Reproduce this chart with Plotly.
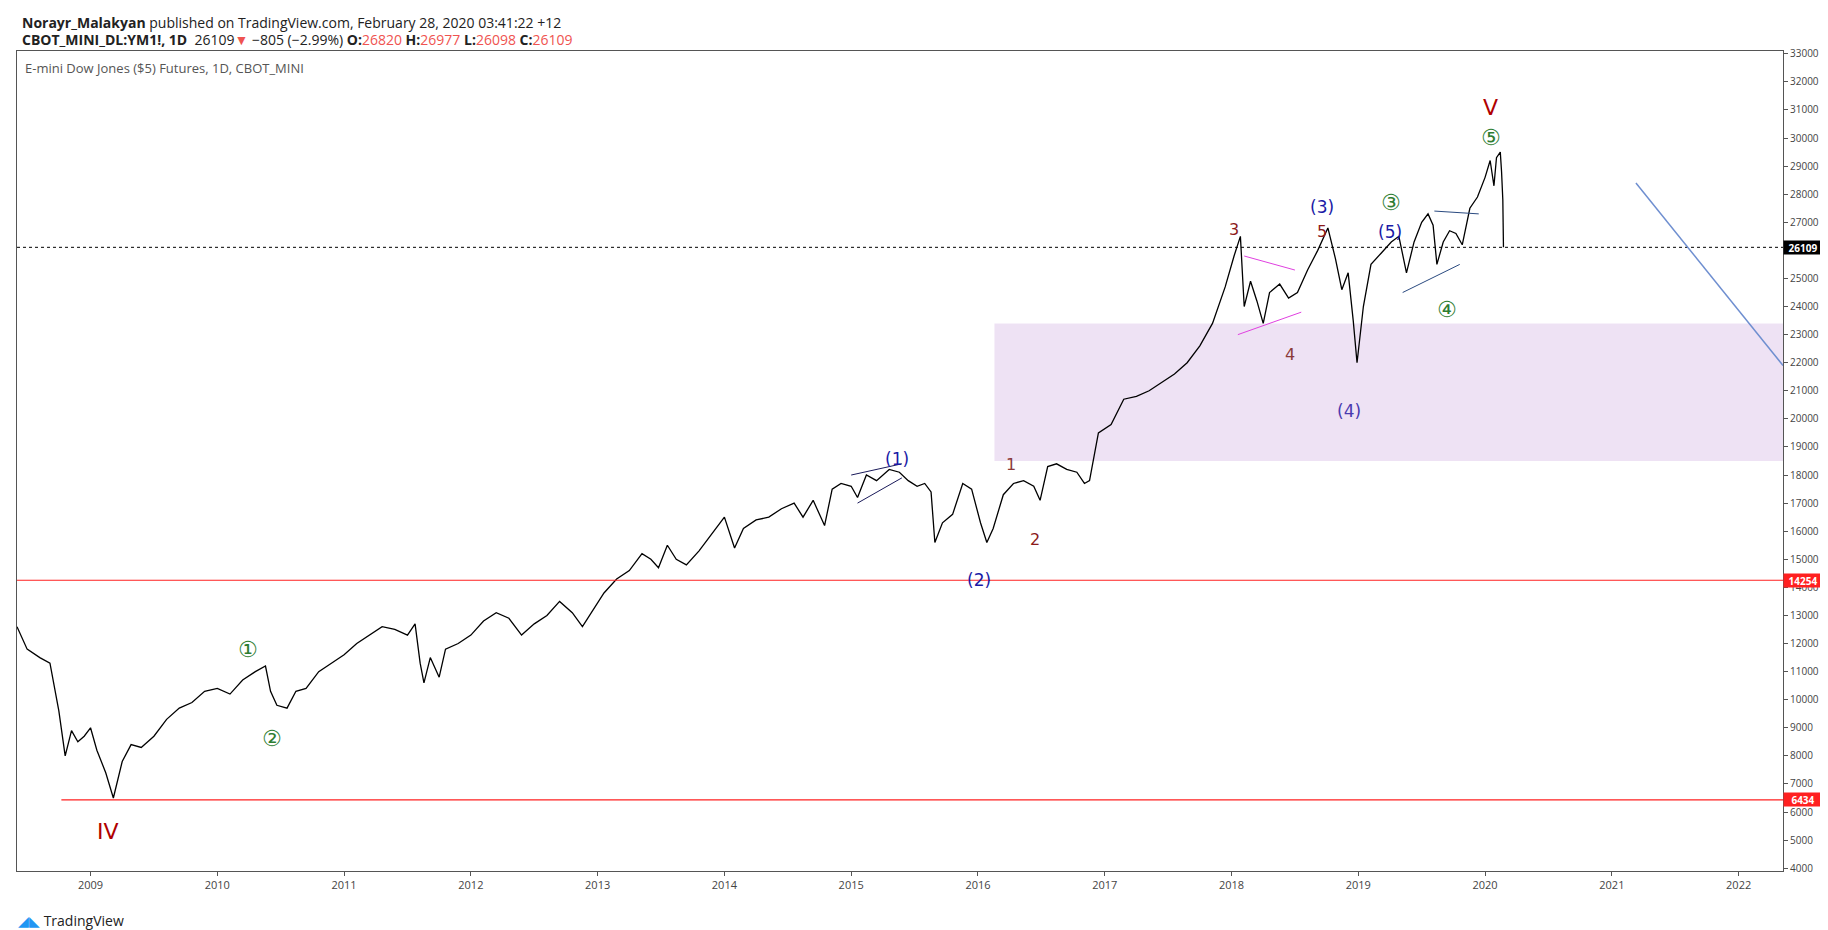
import plotly.graph_objects as go

# Price path (approximate closes), decimal years
years = [2008.42, 2008.5, 2008.6, 2008.68, 2008.75, 2008.8, 2008.85, 2008.9, 2008.95, 2009.0,
         2009.05, 2009.12, 2009.18, 2009.25, 2009.32, 2009.4, 2009.5, 2009.6, 2009.7, 2009.8,
         2009.9, 2010.0, 2010.1, 2010.2, 2010.3, 2010.38, 2010.42, 2010.47, 2010.55, 2010.62,
         2010.7, 2010.8, 2010.9, 2011.0, 2011.1, 2011.2, 2011.3, 2011.4, 2011.5, 2011.56,
         2011.6, 2011.63, 2011.68, 2011.75, 2011.8, 2011.9, 2012.0, 2012.1, 2012.2, 2012.3,
         2012.4, 2012.5, 2012.6, 2012.7, 2012.8, 2012.88, 2012.95, 2013.05, 2013.15, 2013.25,
         2013.35, 2013.42, 2013.48, 2013.55, 2013.62, 2013.7, 2013.8, 2013.9, 2014.0, 2014.08,
         2014.15, 2014.25, 2014.35, 2014.45, 2014.55, 2014.62, 2014.7, 2014.79, 2014.85, 2014.92,
         2015.0, 2015.05, 2015.12, 2015.2, 2015.3, 2015.38, 2015.45, 2015.52, 2015.58, 2015.63,
         2015.66, 2015.72, 2015.8, 2015.88, 2015.95, 2016.02, 2016.07, 2016.12, 2016.2, 2016.28,
         2016.36, 2016.44, 2016.49, 2016.55, 2016.62, 2016.7, 2016.78, 2016.84, 2016.88, 2016.95,
         2017.05, 2017.15, 2017.25, 2017.35, 2017.45, 2017.55, 2017.65, 2017.75, 2017.85, 2017.95,
         2018.02, 2018.07, 2018.1, 2018.15, 2018.2, 2018.25, 2018.3, 2018.38, 2018.45, 2018.52,
         2018.6, 2018.68, 2018.76, 2018.82, 2018.87, 2018.92, 2018.96, 2018.99, 2019.04, 2019.1,
         2019.18, 2019.26, 2019.32, 2019.38, 2019.44, 2019.5, 2019.55, 2019.59, 2019.62, 2019.67,
         2019.72, 2019.77, 2019.82, 2019.88, 2019.94, 2020.0, 2020.04, 2020.07, 2020.09, 2020.12,
         2020.13, 2020.14, 2020.145]
prices = [12600, 11800, 11500, 11300, 9600, 8000, 8900, 8500, 8700, 9000,
          8200, 7400, 6500, 7800, 8400, 8300, 8700, 9300, 9700, 9900,
          10300, 10400, 10200, 10700, 11000, 11200, 10300, 9800, 9700, 10300,
          10400, 11000, 11300, 11600, 12000, 12300, 12600, 12500, 12300, 12700,
          11300, 10600, 11500, 10800, 11800, 12000, 12300, 12800, 13100, 12900,
          12300, 12700, 13000, 13500, 13100, 12600, 13100, 13800, 14300, 14600,
          15200, 15000, 14700, 15500, 15000, 14800, 15300, 15900, 16500, 15400,
          16100, 16400, 16500, 16800, 17000, 16500, 17100, 16200, 17500, 17700,
          17600, 17200, 18000, 17800, 18200, 18100, 17800, 17600, 17700, 17400,
          15600, 16300, 16600, 17700, 17500, 16300, 15600, 16100, 17300, 17700,
          17800, 17600, 17100, 18300, 18400, 18200, 18100, 17700, 17800, 19500,
          19800, 20700, 20800, 21000, 21300, 21600, 22000, 22600, 23400, 24700,
          25800, 26500, 24000, 24900, 24200, 23400, 24500, 24800, 24300, 24500,
          25300, 26000, 26800, 25700, 24600, 25200, 23500, 22000, 24000, 25500,
          25900, 26300, 26500, 25200, 26300, 27000, 27300, 26900, 25500, 26300,
          26700, 26600, 26200, 27500, 27900, 28600, 29200, 28300, 29300, 29500,
          28800, 27800, 26109]

last_price = 26109
support_hi = 14254
support_lo = 6434
zone_top, zone_bot = 23400, 18500

# wave labels: (text, year, price, colour, size)
wave_labels = [
    ("IV", 2009.14, 5300, "#b00000", 22),
    ("①", 2010.24, 11770, "#2e7d32", 22),
    ("②", 2010.43, 8620, "#2e7d32", 22),
    ("(1)", 2015.36, 18580, "#1a1aa6", 17),
    ("(2)", 2016.01, 14270, "#1a1aa6", 17),
    ("1", 2016.26, 18380, "#8b3a3a", 16),
    ("2", 2016.45, 15710, "#8b1a1a", 16),
    ("3", 2018.02, 26740, "#8b1a1a", 16),
    ("4", 2018.46, 22280, "#8b3a3a", 16),
    ("5", 2018.71, 26660, "#8b1a1a", 16),
    ("(3)", 2018.71, 27540, "#1a1aa6", 17),
    ("(4)", 2018.93, 20290, "#4a3ab0", 17),
    ("(5)", 2019.25, 26660, "#1a1aa6", 17),
    ("③", 2019.26, 27700, "#2e7d32", 22),
    ("④", 2019.70, 23880, "#2e7d32", 22),
    ("⑤", 2020.05, 30010, "#2e7d32", 22),
    ("V", 2020.04, 31100, "#b00000", 22),
]

# drawn trend lines: (x0, y0, x1, y1, colour)
trend_lines = [
    (2015.0, 18000, 2015.4, 18400, "#1a1a5a"),
    (2015.05, 17000, 2015.4, 17900, "#1a1a5a"),
    (2018.1, 25800, 2018.5, 25300, "#e040e0"),
    (2018.05, 23000, 2018.55, 23800, "#e040e0"),
    (2019.6, 27400, 2019.95, 27300, "#2a4a80"),
    (2019.35, 24500, 2019.8, 25500, "#2a4a80"),
    (2021.19, 28400, 2022.35, 21900, "#6f8fd0"),
]

x_min, x_max = 2008.42, 2022.35
y_min, y_max = 3900, 33100
year_ticks = list(range(2009, 2023))

W, H = 1828, 930
ML, MR, MT, MB = 9, 53, 43, 67
PW, PH = W - ML - MR, H - MT - MB


def px(x):
    return (x - ML) / PW


def py(y):
    return 1 - (y - MT) / PH


fig = go.Figure()
fig.add_trace(go.Scatter(x=years, y=prices, mode="lines",
                         line=dict(color="black", width=1.3), hoverinfo="skip"))

shapes = [
    dict(type="rect", xref="x", yref="y", x0=2016.13, x1=x_max, y0=zone_bot, y1=zone_top,
         fillcolor="rgba(200,160,220,0.3)", line=dict(width=0), layer="below"),
    dict(type="line", xref="x", yref="y", x0=x_min, x1=x_max, y0=support_hi, y1=support_hi,
         line=dict(color="#ff2020", width=1.2)),
    dict(type="line", xref="x", yref="y", x0=2008.77, x1=x_max, y0=support_lo, y1=support_lo,
         line=dict(color="#ff2020", width=1.2)),
    dict(type="line", xref="x", yref="y", x0=x_min, x1=x_max, y0=last_price, y1=last_price,
         line=dict(color="black", width=1, dash="dot")),
]
for x0, y0, x1, y1, c in trend_lines:
    shapes.append(dict(type="line", xref="x", yref="y", x0=x0, y0=y0, x1=x1, y1=y1,
                       line=dict(color=c, width=1.5 if c == "#6f8fd0" else 1)))

ann = []
for t, x, y, c, s in wave_labels:
    ann.append(dict(x=x, y=y, xref="x", yref="y", text=t, showarrow=False,
                    font=dict(color=c, size=s, family="DejaVu Sans")))

for val, bg in [(last_price, "black"), (support_hi, "#ff2020"), (support_lo, "#ff2020")]:
    ann.append(dict(x=1, y=val, xref="paper", yref="y", xanchor="left", text=f"<b>{val}</b>",
                    showarrow=False, bgcolor=bg, font=dict(color="white", size=10),
                    width=38, height=13, borderpad=0))

ann += [
    dict(x=0, y=1, xref="paper", yref="paper", xanchor="left", yanchor="top", xshift=6, yshift=-6,
         text="E-mini Dow Jones ($5) Futures, 1D, CBOT_MINI", showarrow=False,
         font=dict(size=13, color="#555")),
    dict(x=px(12), y=py(3), xref="paper", yref="paper", xanchor="left", yanchor="top",
         text="<b>Norayr_Malakyan</b> published on TradingView.com, February 28, 2020 03:41:22 +12",
         showarrow=False, font=dict(size=14, color="#222")),
    dict(x=px(12), y=py(20), xref="paper", yref="paper", xanchor="left", yanchor="top",
         text="<b>CBOT_MINI_DL:YM1!, 1D</b>  26109<span style='color:#ef5350'>▼</span> −805 (−2.99%) "
              "<b>O:</b><span style='color:#ef5350'>26820</span> <b>H:</b><span style='color:#ef5350'>26977</span> "
              "<b>L:</b><span style='color:#ef5350'>26098</span> <b>C:</b><span style='color:#ef5350'>26109</span>",
         showarrow=False, font=dict(size=14, color="#222")),
    dict(x=px(8), y=py(912), xref="paper", yref="paper", xanchor="left", yanchor="middle",
         text="<span style='color:#2196f3'>◢◣</span> TradingView", showarrow=False,
         font=dict(size=14, color="#222")),
]

fig.update_layout(
    width=W, height=H,
    margin=dict(l=ML, r=MR, t=MT, b=MB),
    paper_bgcolor="white", plot_bgcolor="white",
    showlegend=False, shapes=shapes, annotations=ann,
    font=dict(family="Open Sans, Liberation Sans", color="#444"),
    xaxis=dict(range=[x_min, x_max], tickvals=year_ticks, ticktext=[str(y) for y in year_ticks],
               showgrid=False, zeroline=False, showline=True, linecolor="#555", mirror=True,
               ticks="outside", ticklen=4, tickcolor="#555", tickfont=dict(size=11)),
    yaxis=dict(range=[y_min, y_max], side="right", dtick=1000, tick0=0, tickformat="d",
               showgrid=False, zeroline=False, showline=True, linecolor="#555", mirror=True,
               ticks="outside", ticklen=4, tickcolor="#555", tickfont=dict(size=10)),
)

fig.write_html("out.html")
